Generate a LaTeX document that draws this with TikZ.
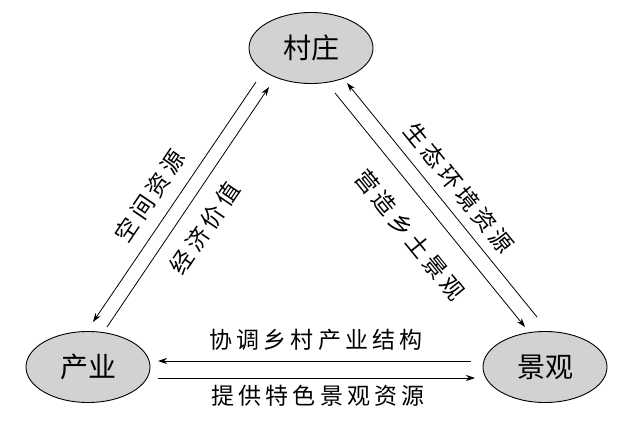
\documentclass[tikz,border=0pt]{standalone}
\usepackage{fontspec}
\newfontfamily\cjk{Noto Sans CJK SC}
\newfontfamily\cjks[LetterSpace=18]{Noto Sans CJK SC}
\usetikzlibrary{arrows.meta,calc,shapes.geometric}
\tikzset{
  place/.style={ellipse, draw=black, line width=0.9pt, fill=gray!35,
    minimum width=124pt, minimum height=71pt, inner sep=0pt,
    font=\cjk\fontsize{28}{28}\selectfont},
  flow/.style={line width=0.8pt, -{Stealth[length=9pt,width=6pt]}},
  lab/.style={inner sep=0pt, font=\cjks\fontsize{23}{23}\selectfont}
}
\begin{document}
\begin{tikzpicture}[x=1pt,y=-1pt]
\useasboundingbox (0,0) rectangle (619,433);
\node[place] (c) at (311,48) {村庄};
\node[place] (i) at (88,367) {产业};
\node[place] (l) at (545,367) {景观};
% left pair
\coordinate (cl1) at ($(c)+(-55,34)$);
\coordinate (il1) at ($(i)+(5,-45)$);
\coordinate (il2) at ($(i)+(19,-40)$);
\coordinate (cl2) at ($(c)+(-42,39)$);
\draw[flow] (cl1) -- (il1);
\draw[flow] (il2) -- (cl2);
% right pair
\coordinate (lr1) at ($(l)+(-8,-50)$);
\coordinate (cr1) at ($(c)+(36,35)$);
\coordinate (cr2) at ($(c)+(24,45)$);
\coordinate (lr2) at ($(l)+(-20,-40)$);
\draw[flow] (lr1) -- (cr1);
\draw[flow] (cr2) -- (lr2);
% bottom pair
\coordinate (lb1) at ($(l)+(-74,-6)$);
\coordinate (ib1) at ($(i)+(70,-6)$);
\coordinate (ib2) at ($(i)+(70,11)$);
\coordinate (lb2) at ($(l)+(-70,11)$);
\draw[flow] (lb1) -- (ib1);
\draw[flow] (ib2) -- (lb2);
% labels
\node[lab, rotate=55.8] (t1) at (150,196) {空间资源};
\node[lab, rotate=55.8] (t2) at (205,228) {经济价值};
\node[lab, rotate=-50.9] (t3) at (459,188) {生态环境资源};
\node[lab, rotate=-50.9] (t4) at (410,235) {营造乡土景观};
\node[lab] (t5) at (316,340) {协调乡村产业结构};
\node[lab] (t6) at (318,396) {提供特色景观资源};
\end{tikzpicture}
\end{document}
